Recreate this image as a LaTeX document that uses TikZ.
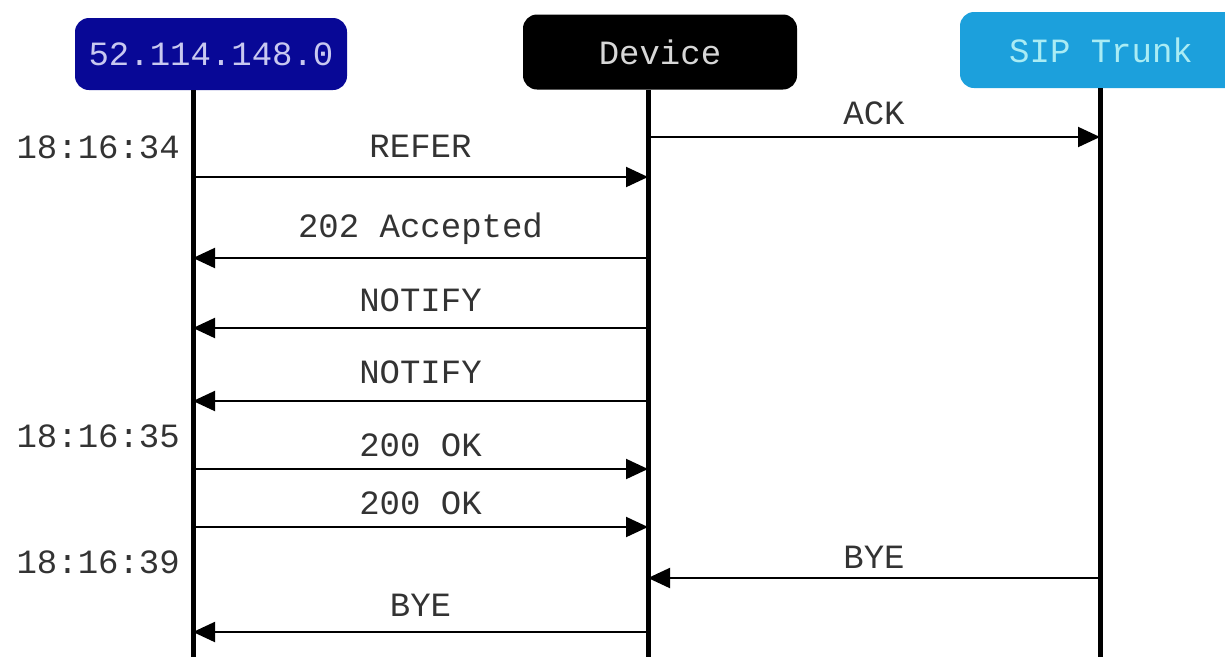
\documentclass[tikz,border=0pt]{standalone}
\usepackage{fontspec}
\setmonofont{Liberation Mono}
\usetikzlibrary{positioning,arrows.meta}

\definecolor{ipblue}{RGB}{8,8,150}
\definecolor{iptext}{RGB}{200,200,240}
\definecolor{devtext}{RGB}{215,215,215}
\definecolor{sipblue}{RGB}{28,160,220}
\definecolor{siptext}{RGB}{170,236,244}

\begin{document}
\begin{tikzpicture}[
  x=1pt, y=-1pt,
  font=\ttfamily\fontsize{34}{40}\selectfont,
  head/.style={rounded corners=14pt, inner sep=0pt},
  life/.style={line width=5pt},
  msg/.style={-{Triangle[length=22pt,width=20pt]}, line width=2pt},
  lbl/.style={inner sep=0pt, text depth=0pt, text=black!80},
  stamp/.style={anchor=base east, inner sep=0pt, text=black!80}
]
\useasboundingbox (0,0) rectangle (1225,657);

% participants
\node[head, fill=ipblue, text=iptext, minimum width=272pt, minimum height=72pt] (ip) at (211,54) {52.114.148.0};
\node[head, fill=black, text=devtext, minimum width=274pt, minimum height=75pt] (dev) at (660,52) {Device};
\node[head, fill=sipblue, text=siptext, minimum width=282pt, minimum height=76pt] (sip) at (1101,50) {SIP Trunk};

% lifelines
\coordinate (ipL) at (193,90);
\coordinate (devL) at (648,90);
\coordinate (sipL) at (1100,88);
\foreach \l in {ipL,devL,sipL}
  \draw[life] (\l) -- (\l |- 0,657);

% messages
\foreach \src/\dst/\y/\gap/\txt in {
  devL/sipL/137/12/ACK,
  ipL/devL/177/19/REFER,
  devL/ipL/258/20/202 Accepted,
  devL/ipL/328/16/NOTIFY,
  devL/ipL/401/17/NOTIFY,
  ipL/devL/469/12/200 OK,
  ipL/devL/527/12/200 OK,
  sipL/devL/578/9/BYE,
  devL/ipL/632/15/BYE}
  \draw[msg] (\src |- 0,\y) -- node[lbl, above=\gap pt] {\txt} (\dst |- 0,\y);

% timestamps
\node[stamp] (t1) at (180,158) {18:16:34};
\node[stamp] (t2) at (180,447) {18:16:35};
\node[stamp] (t3) at (180,573) {18:16:39};

\end{tikzpicture}
\end{document}
